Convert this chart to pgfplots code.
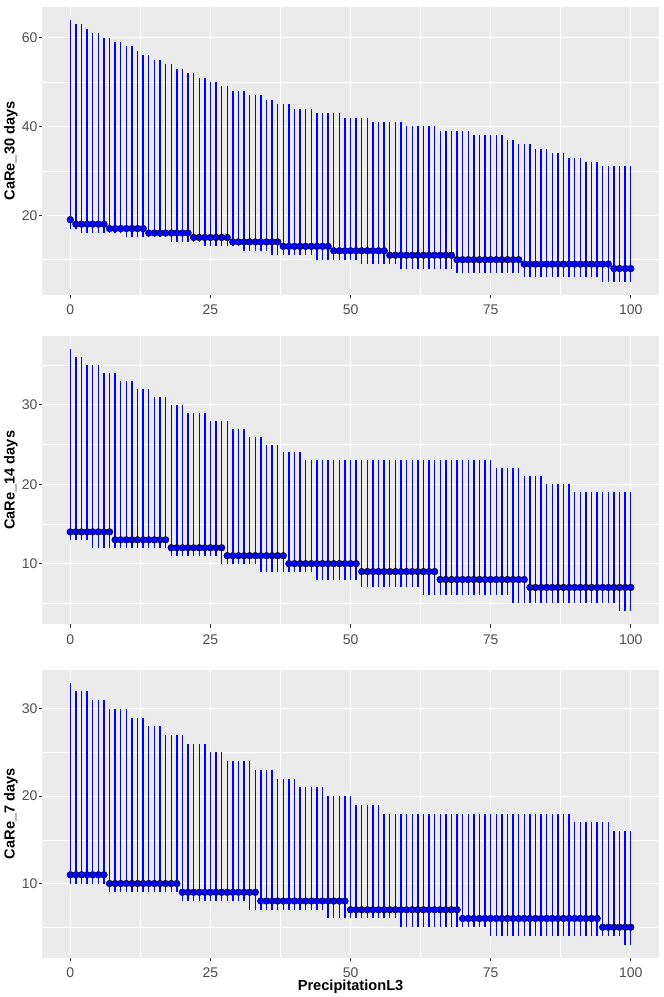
\documentclass[border=0pt]{standalone}
\usepackage{fontspec}
\setmainfont{Liberation Sans}
\usepackage{pgfplots}
\usepackage{pgfplotstable}
\pgfplotsset{compat=1.18}
\definecolor{ggblue}{HTML}{0000FF}
\definecolor{ggbg}{HTML}{EBEBEB}
\definecolor{ggtick}{HTML}{333333}
\definecolor{ggtxt}{HTML}{4D4D4D}

% columns: x median lower upper
\pgfplotstableread{
x med lo hi
0 19 17 64
1 18 17 63
2 18 16 63
3 18 16 62
4 18 16 61
5 18 16 61
6 18 16 60
7 17 16 60
8 17 16 59
9 17 16 59
10 17 15 58
11 17 15 58
12 17 15 57
13 17 15 56
14 16 15 56
15 16 15 55
16 16 15 55
17 16 15 54
18 16 14 54
19 16 14 53
20 16 14 53
21 16 14 52
22 15 14 52
23 15 14 51
24 15 13 51
25 15 13 50
26 15 13 50
27 15 13 49
28 15 13 49
29 14 13 48
30 14 13 48
31 14 12 48
32 14 12 47
33 14 12 47
34 14 12 47
35 14 12 46
36 14 11 46
37 14 11 45
38 13 11 45
39 13 11 45
40 13 11 44
41 13 11 44
42 13 11 44
43 13 11 44
44 13 10 43
45 13 10 43
46 13 10 43
47 12 10 43
48 12 10 43
49 12 10 42
50 12 10 42
51 12 10 42
52 12 9 42
53 12 9 42
54 12 9 41
55 12 9 41
56 12 9 41
57 11 9 41
58 11 9 41
59 11 8 41
60 11 8 40
61 11 8 40
62 11 8 40
63 11 8 40
64 11 8 40
65 11 8 40
66 11 8 39
67 11 8 39
68 11 8 39
69 10 7 39
70 10 7 39
71 10 7 39
72 10 7 38
73 10 7 38
74 10 7 38
75 10 7 38
76 10 7 38
77 10 7 38
78 10 7 37
79 10 7 37
80 10 7 36
81 9 6 36
82 9 6 36
83 9 6 35
84 9 6 35
85 9 6 35
86 9 6 34
87 9 6 34
88 9 6 34
89 9 6 33
90 9 6 33
91 9 6 33
92 9 6 32
93 9 6 32
94 9 6 32
95 9 5 31
96 9 5 31
97 8 5 31
98 8 5 31
99 8 5 31
100 8 5 31
}\dataA

\pgfplotstableread{
x med lo hi
0 14 13 37
1 14 13 36
2 14 13 36
3 14 13 35
4 14 12 35
5 14 12 35
6 14 12 34
7 14 12 34
8 13 12 34
9 13 12 33
10 13 12 33
11 13 12 33
12 13 12 32
13 13 12 32
14 13 12 32
15 13 12 31
16 13 12 31
17 13 12 31
18 12 11 30
19 12 11 30
20 12 11 30
21 12 11 29
22 12 11 29
23 12 11 29
24 12 11 29
25 12 11 28
26 12 11 28
27 12 10 28
28 11 10 28
29 11 10 27
30 11 10 27
31 11 10 27
32 11 10 26
33 11 10 26
34 11 9 26
35 11 9 25
36 11 9 25
37 11 9 25
38 11 9 24
39 10 9 24
40 10 9 24
41 10 9 24
42 10 9 23
43 10 9 23
44 10 8 23
45 10 8 23
46 10 8 23
47 10 8 23
48 10 8 23
49 10 8 23
50 10 8 23
51 10 8 23
52 9 7 23
53 9 7 23
54 9 7 23
55 9 7 23
56 9 7 23
57 9 7 23
58 9 7 23
59 9 7 23
60 9 7 23
61 9 7 23
62 9 7 23
63 9 6 23
64 9 6 23
65 9 6 23
66 8 6 23
67 8 6 23
68 8 6 23
69 8 6 23
70 8 6 23
71 8 6 23
72 8 6 23
73 8 6 23
74 8 6 23
75 8 6 23
76 8 6 22
77 8 6 22
78 8 6 22
79 8 5 22
80 8 5 22
81 8 5 21
82 7 5 21
83 7 5 21
84 7 5 21
85 7 5 20
86 7 5 20
87 7 5 20
88 7 5 20
89 7 5 20
90 7 5 19
91 7 5 19
92 7 5 19
93 7 5 19
94 7 5 19
95 7 5 19
96 7 5 19
97 7 5 19
98 7 4 19
99 7 4 19
100 7 4 19
}\dataB

\pgfplotstableread{
x med lo hi
0 11 10 33
1 11 10 32
2 11 10 32
3 11 10 32
4 11 10 31
5 11 10 31
6 11 10 31
7 10 9 30
8 10 9 30
9 10 9 30
10 10 9 30
11 10 9 29
12 10 9 29
13 10 9 29
14 10 9 28
15 10 9 28
16 10 9 28
17 10 9 27
18 10 9 27
19 10 9 27
20 9 8 27
21 9 8 26
22 9 8 26
23 9 8 26
24 9 8 26
25 9 8 25
26 9 8 25
27 9 8 25
28 9 8 24
29 9 8 24
30 9 8 24
31 9 8 24
32 9 7 24
33 9 7 23
34 8 7 23
35 8 7 23
36 8 7 23
37 8 7 22
38 8 7 22
39 8 7 22
40 8 7 22
41 8 7 21
42 8 7 21
43 8 7 21
44 8 7 21
45 8 7 21
46 8 6 20
47 8 6 20
48 8 6 20
49 8 6 20
50 7 6 20
51 7 6 19
52 7 6 19
53 7 6 19
54 7 6 19
55 7 6 19
56 7 6 18
57 7 6 18
58 7 6 18
59 7 5 18
60 7 5 18
61 7 5 18
62 7 5 18
63 7 5 18
64 7 5 18
65 7 5 18
66 7 5 18
67 7 5 18
68 7 5 18
69 7 5 18
70 6 5 18
71 6 5 18
72 6 5 18
73 6 5 18
74 6 5 18
75 6 4 18
76 6 4 18
77 6 4 18
78 6 4 18
79 6 4 18
80 6 4 18
81 6 4 18
82 6 4 18
83 6 4 18
84 6 4 18
85 6 4 18
86 6 4 18
87 6 4 18
88 6 4 18
89 6 4 18
90 6 4 17
91 6 4 17
92 6 4 17
93 6 4 17
94 6 4 17
95 5 4 17
96 5 4 17
97 5 4 16
98 5 4 16
99 5 3 16
100 5 3 16
}\dataC

\pgfplotsset{
  ggp/.style={
    scale only axis, width=616.5pt, height=288.3pt,
    xmin=-5, xmax=105,
    axis background/.style={fill=ggbg},
    axis line style={draw=none},
    grid=both,
    major grid style={draw=white, line width=1.1pt},
    minor grid style={draw=white, line width=0.55pt},
    xtick={0,25,50,75,100},
    minor xtick={12.5,37.5,62.5,87.5},
    xtick pos=bottom, ytick pos=left,
    tick align=outside,
    major tick length=3.2pt, minor tick length=0pt,
    major tick style={draw=ggtick, line width=1.0pt},
    /pgf/number format/assume math mode=true,
    ticklabel style={font=\fontsize{14}{16}\selectfont, text=ggtxt},
    yticklabel style={anchor=east, inner sep=0pt, xshift=-1.4pt},
    xticklabel style={anchor=base, inner sep=0pt, yshift=-16.5pt},
    every axis y label/.style={at={(axis description cs:-0.0511,0.5)}, rotate=90, anchor=center, font=\bfseries\fontsize{14.6}{17}\selectfont},
    every axis x label/.style={at={(axis description cs:0.5,0)}, anchor=base, inner sep=0pt, yshift=-33pt, font=\bfseries\fontsize{14.6}{17}\selectfont},
  },
  errs/.style={draw=none, forget plot, error bars/.cd, y dir=both, y explicit, error mark=none, error bar style={draw=ggblue, line width=1.4pt}},
  dots/.style={only marks, mark=*, mark size=3.4pt, mark options={draw=none, fill=ggblue}},
}

\begin{document}
\begin{tikzpicture}
\useasboundingbox (0pt,0pt) rectangle (664pt,997pt);

\begin{axis}[ggp, at={(42.3pt,702pt)}, anchor=south west,
  ymin=2.05, ymax=66.95, ytick={20,40,60}, minor ytick={10,30,50},
  ylabel={CaRe\_30 days}]
\addplot[errs] table[x=x, y=med, y error plus expr=\thisrow{hi}-\thisrow{med}, y error minus expr=\thisrow{med}-\thisrow{lo}] {\dataA};
\addplot[dots] table[x=x, y=med] {\dataA};
\end{axis}

\begin{axis}[ggp, at={(42.3pt,372.6pt)}, anchor=south west,
  ymin=2.35, ymax=38.65, ytick={10,20,30}, minor ytick={5,15,25,35},
  ylabel={CaRe\_14 days}]
\addplot[errs] table[x=x, y=med, y error plus expr=\thisrow{hi}-\thisrow{med}, y error minus expr=\thisrow{med}-\thisrow{lo}] {\dataB};
\addplot[dots] table[x=x, y=med] {\dataB};
\end{axis}

\begin{axis}[ggp, at={(42.3pt,39.2pt)}, anchor=south west,
  ymin=1.5, ymax=34.5, ytick={10,20,30}, minor ytick={5,15,25},
  ylabel={CaRe\_7 days}, xlabel={PrecipitationL3}]
\addplot[errs] table[x=x, y=med, y error plus expr=\thisrow{hi}-\thisrow{med}, y error minus expr=\thisrow{med}-\thisrow{lo}] {\dataC};
\addplot[dots] table[x=x, y=med] {\dataC};
\end{axis}
\end{tikzpicture}
\end{document}
